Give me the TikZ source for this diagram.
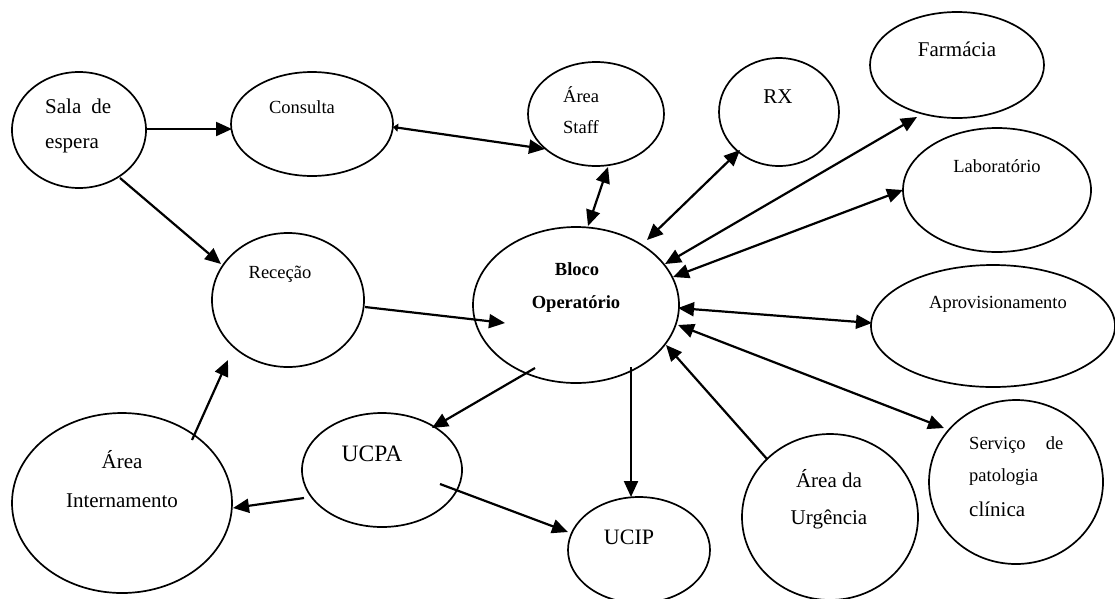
\documentclass[tikz,border=0pt]{standalone}
\usepackage{fontspec}
\setmainfont{Liberation Serif}
\usetikzlibrary{shapes.geometric,arrows.meta}
\begin{document}
\begin{tikzpicture}[x=1pt,y=-1pt,
  ell/.style={draw,ellipse,line width=1.7pt,inner sep=0pt},
  conn/.style={line width=2.2pt,-{Triangle[length=16pt,width=14pt]}},
  dconn/.style={line width=2.2pt,{Triangle[length=16pt,width=14pt]}-{Triangle[length=16pt,width=14pt]}},
  ts/.style={inner sep=0pt,font=\fontsize{18.5}{22}\selectfont},
  tm/.style={inner sep=0pt,font=\fontsize{21}{25}\selectfont},
  tl/.style={inner sep=0pt,font=\fontsize{23.5}{28}\selectfont}]
\useasboundingbox (0,0) rectangle (1115,598);
% ellipses
\node[ell,minimum width=134pt,minimum height=116pt] (sala) at (79,130) {};
\node[ell,minimum width=162pt,minimum height=104pt] (consulta) at (312,124) {};
\node[ell,minimum width=136pt,minimum height=104pt] (staff) at (596,114) {};
\node[ell,minimum width=120pt,minimum height=108pt] (rx) at (779,112) {};
\node[ell,minimum width=174pt,minimum height=106pt] (farm) at (957,65) {};
\node[ell,minimum width=188pt,minimum height=124pt] (lab) at (997,190) {};
\node[ell,minimum width=244pt,minimum height=122pt] (aprov) at (993,326) {};
\node[ell,minimum width=174pt,minimum height=164pt] (serv) at (1016,482) {};
\node[ell,minimum width=176pt,minimum height=166pt] (urg) at (830,517) {};
\node[ell,minimum width=142pt,minimum height=106pt] (ucip) at (639,550) {};
\node[ell,minimum width=160pt,minimum height=114pt] (ucpa) at (382,470) {};
\node[ell,minimum width=220pt,minimum height=180pt] (intern) at (122,503) {};
\node[ell,minimum width=152pt,minimum height=134pt] (recep) at (288,300) {};
\node[ell,minimum width=206pt,minimum height=156pt] (bloco) at (576,305) {};
% texts
\node[tm,anchor=base west] (tsala1) at (45,113) {\makebox[66pt][s]{Sala de}};
\node[tm,anchor=base west] (tsala2) at (45,148) {espera};
\node[ts,anchor=base] (tcons) at (302,113) {Consulta};
\node[ts,anchor=base west] (tstaff1) at (563,102) {Área};
\node[ts,anchor=base west] (tstaff2) at (563,133) {Staff};
\node[tm,anchor=base] (trx) at (778,103) {RX};
\node[tm,anchor=base] (tfarm) at (957,56) {Farmácia};
\node[ts,anchor=base] (tlab) at (997,172) {Laboratório};
\node[ts,anchor=base] (taprov) at (998,308) {Aprovisionamento};
\node[ts,anchor=base] (trecep) at (280,278) {Receção};
\node[ts,anchor=base,font=\fontsize{18.5}{22}\selectfont\bfseries] (tbloco1) at (577,275) {Bloco};
\node[ts,anchor=base,font=\fontsize{18.5}{22}\selectfont\bfseries] (tbloco2) at (576,308) {Operatório};
\node[tl,anchor=base] (tucpa) at (372,461) {UCPA};
\node[tm,anchor=base] (tint1) at (122,468) {Área};
\node[tm,anchor=base] (tint2) at (122,507) {Internamento};
\node[tl,anchor=base,font=\fontsize{22}{26}\selectfont] (tucip) at (629,544) {UCIP};
\node[tm,anchor=base] (turg1) at (829,487) {Área da};
\node[tm,anchor=base] (turg2) at (829,524) {Urgência};
\node[ts,anchor=base west] (tserv1) at (969,449) {\makebox[94pt][s]{Serviço de}};
\node[ts,anchor=base west] (tserv2) at (969,481) {patologia};
\node[tm,anchor=base west] (tserv3) at (969,516) {clínica};
% connector end points
\coordinate (sala-e) at (146,129);
\coordinate (cons-w) at (232,129);
\coordinate (cons-e) at (393,127);
\coordinate (staff-sw) at (545,149);
\coordinate (staff-s) at (608,167);
\coordinate (bloco-staff) at (588,226);
\coordinate (rx-sw) at (740,150);
\coordinate (bloco-rx) at (647,240);
\coordinate (farm-sw) at (917,117);
\coordinate (bloco-farm) at (665,264);
\coordinate (lab-w) at (903,190);
\coordinate (bloco-lab) at (673,277);
\coordinate (aprov-w) at (872,323);
\coordinate (bloco-aprov) at (678,308);
\coordinate (serv-nw) at (944,428);
\coordinate (bloco-serv) at (678,325);
\coordinate (urg-nw) at (767,459);
\coordinate (bloco-urg) at (666,345);
\coordinate (bloco-s) at (631,367);
\coordinate (ucip-n) at (631,497);
\coordinate (bloco-sw) at (535,368);
\coordinate (ucpa-ne) at (432,428);
\coordinate (ucpa-se) at (440,484);
\coordinate (ucip-w) at (568,532);
\coordinate (ucpa-w) at (304,498);
\coordinate (int-e) at (233,508);
\coordinate (int-ne) at (192,440);
\coordinate (recep-s) at (228,360);
\coordinate (recep-e) at (365,307);
\coordinate (bloco-w) at (505,323);
\coordinate (sala-se) at (120,178);
\coordinate (recep-nw) at (221,264);
% connectors
\draw[conn] (sala-e) -- (cons-w);
\draw[line width=2.2pt,{Triangle[length=5pt,width=8pt]}-{Triangle[length=16pt,width=14pt]}] (cons-e) -- (staff-sw);
\draw[dconn] (staff-s) -- (bloco-staff);
\draw[dconn] (rx-sw) -- (bloco-rx);
\draw[dconn] (farm-sw) -- (bloco-farm);
\draw[dconn] (lab-w) -- (bloco-lab);
\draw[dconn] (aprov-w) -- (bloco-aprov);
\draw[dconn] (serv-nw) -- (bloco-serv);
\draw[conn] (urg-nw) -- (bloco-urg);
\draw[conn] (bloco-s) -- (ucip-n);
\draw[conn] (bloco-sw) -- (ucpa-ne);
\draw[conn] (ucpa-se) -- (ucip-w);
\draw[conn] (ucpa-w) -- (int-e);
\draw[conn] (int-ne) -- (recep-s);
\draw[conn] (recep-e) -- (bloco-w);
\draw[conn] (sala-se) -- (recep-nw);
\end{tikzpicture}
\end{document}
